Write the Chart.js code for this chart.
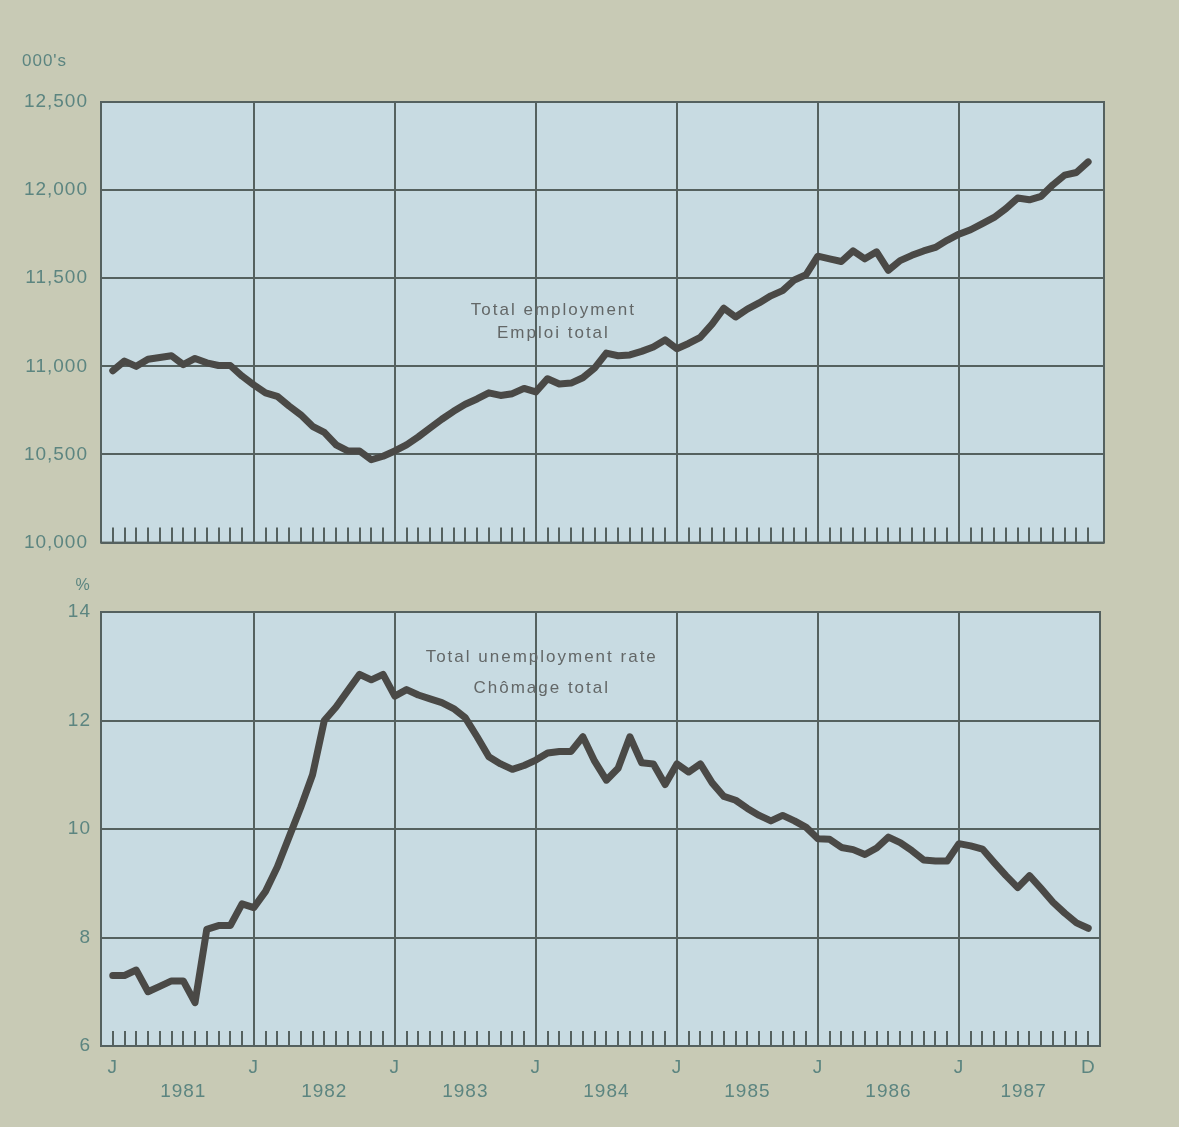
<!DOCTYPE html>
<html>
<head>
<meta charset="utf-8">
<script src="https://cdn.jsdelivr.net/npm/chart.js@4.4.1/dist/chart.umd.min.js"></script>
<style>
  html, body { margin: 0; padding: 0; background: #c8cab5; }
  #wrap { position: relative; width: 1179px; height: 1127px; }
  .box { position: absolute; left: 0; width: 1179px; }
</style>
</head>
<body>
<div id="wrap">
  <div class="box" style="top:0;height:567px"><canvas id="empChart"></canvas></div>
  <div class="box" style="top:567px;height:560px"><canvas id="unempChart"></canvas></div>
</div>
<script>
// monthly data, Jan 1981 .. Dec 1987 (index 0..83)
const years = [1981, 1982, 1983, 1984, 1985, 1986, 1987];
const yearLabelPos = [6, 18, 30, 42, 54, 66, 77.5];
const janPos = [0, 12, 24, 36, 48, 60, 72];
const decPos = 83;

// total employment, 000's
const employment = [
  10975, 11030, 11000, 11040, 11050, 11060, 11010, 11045, 11020, 11005, 11005, 10945,
  10895, 10850, 10830, 10775, 10725, 10660, 10625, 10555, 10520, 10520, 10470, 10490,
  10520, 10555, 10600, 10650, 10700, 10745, 10785, 10815, 10850, 10835, 10845, 10875,
  10855, 10930, 10900, 10905, 10935, 10990, 11075, 11060, 11065, 11085, 11110, 11150,
  11100, 11130, 11165, 11240, 11330, 11280, 11325, 11360, 11400, 11430, 11490, 11520,
  11625, 11610, 11595, 11655, 11610, 11650, 11545, 11600, 11630, 11655, 11675, 11715,
  11750, 11775, 11810, 11845, 11895, 11955, 11945, 11965, 12030, 12085, 12100, 12160
];

// total unemployment rate, %
const unemployment = [
  7.3, 7.3, 7.4, 7.0, 7.1, 7.2, 7.2, 6.8, 8.15, 8.22, 8.22, 8.62,
  8.55, 8.85, 9.3, 9.85, 10.4, 11.0, 12.0, 12.25, 12.55, 12.85, 12.75, 12.85,
  12.45, 12.57, 12.47, 12.4, 12.33, 12.22, 12.05, 11.7, 11.33, 11.2, 11.1, 11.17,
  11.27, 11.4, 11.43, 11.43, 11.7, 11.25, 10.9, 11.12, 11.7, 11.22, 11.2, 10.82,
  11.2, 11.05, 11.2, 10.85, 10.6, 10.53, 10.38, 10.25, 10.15, 10.25, 10.15, 10.03,
  9.82, 9.81, 9.66, 9.62, 9.53, 9.65, 9.85, 9.75, 9.6, 9.43, 9.41, 9.41,
  9.73, 9.69, 9.63, 9.38, 9.14, 8.92, 9.14, 8.9, 8.65, 8.45, 8.27, 8.17
];

const empTicks = [10000, 10500, 11000, 11500, 12000, 12500];
const rateTicks = [6, 8, 10, 12, 14];

const plotBg = '#c8dbe2';
const gridColor = '#55615f';
const lineColor = '#4a4946';
const tickColor = '#5c8580';
const noteColor = '#636767';
const fontFamily = '"Liberation Sans", Arial, sans-serif';

// plot background, frame, small monthly ticks, unit label and series notes
const framePlugin = {
  id: 'frame',
  beforeDraw(chart) {
    const { ctx, chartArea: a } = chart;
    ctx.save();
    ctx.fillStyle = plotBg;
    ctx.fillRect(a.left, a.top, a.right - a.left, a.bottom - a.top);
    ctx.restore();
    ctx.letterSpacing = '1px';
  },
  afterDraw(chart, args, opts) {
    const { ctx, chartArea: a } = chart;
    const xs = chart.scales.x, ys = chart.scales.y;
    ctx.save();
    ctx.strokeStyle = gridColor;
    ctx.lineWidth = 2;
    for (let i = 0; i < employment.length; i++) {
      const px = Math.round(xs.getPixelForValue(i));
      ctx.beginPath();
      ctx.moveTo(px, a.bottom);
      ctx.lineTo(px, a.bottom - 15);
      ctx.stroke();
    }
    ctx.strokeRect(a.left, a.top, a.right - a.left, a.bottom - a.top);

    ctx.letterSpacing = '2px';
    ctx.fillStyle = noteColor;
    ctx.font = '17px ' + fontFamily;
    ctx.textAlign = 'center';
    ctx.textBaseline = 'alphabetic';
    opts.notes.forEach(n => {
      ctx.fillText(n.text, xs.getPixelForValue(n.x), ys.getPixelForValue(n.y));
    });

    ctx.letterSpacing = '1px';
    ctx.fillStyle = tickColor;
    ctx.font = opts.unit.size + 'px ' + fontFamily;
    ctx.textAlign = opts.unit.align;
    ctx.textBaseline = 'middle';
    ctx.fillText(opts.unit.text, opts.unit.x, opts.unit.y);
    ctx.restore();
  }
};

const monthGrid = ctx => (ctx.tick && ctx.tick.value > 0 && ctx.tick.value % 12 === 0) ? gridColor : 'rgba(0,0,0,0)';

function lineData(values) {
  return {
    datasets: [{
      data: values.map((v, i) => ({ x: i, y: v })),
      borderColor: lineColor,
      borderWidth: 7,
      pointRadius: 0,
      tension: 0,
      borderJoinStyle: 'round',
      borderCapStyle: 'round'
    }]
  };
}

new Chart(document.getElementById('empChart'), {
  type: 'line',
  data: lineData(employment),
  options: {
    responsive: true,
    maintainAspectRatio: false,
    animation: false,
    layout: { padding: { top: 102, right: 75, left: 0, bottom: 0 } },
    plugins: {
      legend: { display: false },
      tooltip: { enabled: false },
      frame: {
        notes: [
          { text: 'Total employment', x: 37.5, y: 11292 },
          { text: 'Emploi total', x: 37.5, y: 11162 }
        ],
        unit: { text: "000's", x: 22, y: 61, size: 17, align: 'left' }
      }
    },
    scales: {
      x: {
        type: 'linear', min: -1, max: 84.35,
        afterBuildTicks: s => { s.ticks = janPos.map(v => ({ value: v })); },
        ticks: { display: false },
        grid: { color: monthGrid, lineWidth: 2, drawTicks: false },
        border: { display: false },
        afterFit: s => { s.height = 17; }
      },
      y: {
        min: 10000, max: 12500,
        afterBuildTicks: s => { s.ticks = empTicks.map(v => ({ value: v })); },
        ticks: {
          callback: v => v.toLocaleString('en-US'),
          color: tickColor,
          font: { family: fontFamily, size: 19 },
          padding: 13
        },
        grid: { color: gridColor, lineWidth: 2, drawTicks: false },
        border: { display: false },
        afterFit: s => { s.width = 101; }
      }
    }
  },
  plugins: [framePlugin]
});

new Chart(document.getElementById('unempChart'), {
  type: 'line',
  data: lineData(unemployment),
  options: {
    responsive: true,
    maintainAspectRatio: false,
    animation: false,
    layout: { padding: { top: 45, right: 79, left: 0, bottom: 0 } },
    plugins: {
      legend: { display: false },
      tooltip: { enabled: false },
      frame: {
        notes: [
          { text: 'Total unemployment rate', x: 36.5, y: 13.07 },
          { text: 'Chômage total', x: 36.5, y: 12.51 }
        ],
        unit: { text: '%', x: 83, y: 19, size: 16, align: 'center' }
      }
    },
    scales: {
      x: {
        type: 'linear', min: -1, max: 84,
        afterBuildTicks: s => {
          s.ticks = janPos.concat(yearLabelPos, [decPos]).sort((a, b) => a - b).map(v => ({ value: v }));
        },
        ticks: {
          autoSkip: false,
          maxRotation: 0,
          color: tickColor,
          font: { family: fontFamily, size: 19, lineHeight: 1.26 },
          padding: 10,
          callback: v => {
            if (janPos.includes(v)) return 'J';
            if (v === decPos) return 'D';
            const k = yearLabelPos.indexOf(v);
            return k >= 0 ? ['', String(years[k])] : '';
          }
        },
        grid: { color: monthGrid, lineWidth: 2, drawTicks: false },
        border: { display: false },
        afterFit: s => { s.height = 81; }
      },
      y: {
        min: 6, max: 14,
        afterBuildTicks: s => { s.ticks = rateTicks.map(v => ({ value: v })); },
        ticks: {
          color: tickColor,
          font: { family: fontFamily, size: 19 },
          padding: 10
        },
        grid: { color: gridColor, lineWidth: 2, drawTicks: false },
        border: { display: false },
        afterFit: s => { s.width = 101; }
      }
    }
  },
  plugins: [framePlugin]
});
</script>
</body>
</html>
